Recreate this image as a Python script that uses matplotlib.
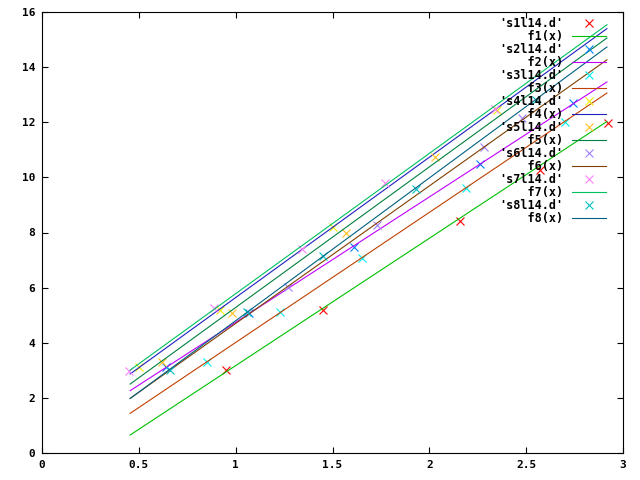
import numpy as np
import matplotlib
matplotlib.use("Agg")
import matplotlib.pyplot as plt

# scatter data
s1_x = [0.95, 1.45, 2.16, 2.57, 2.92]
s1_y = [3.00, 5.19, 8.42, 10.27, 11.96]
s2_x = [0.64, 1.07, 1.61, 2.26, 2.74]
s2_y = [3.13, 5.09, 7.46, 10.49, 12.69]
s3_x = [0.85, 1.23, 1.65, 2.19, 2.70]
s3_y = [3.31, 5.11, 7.06, 9.60, 12.02]
s4_x = [0.50, 0.92, 1.50, 2.35]
s4_y = [3.13, 5.19, 8.21, 12.44]
s5_x = [0.62, 0.98, 1.57, 2.03]
s5_y = [3.31, 5.07, 7.99, 10.75]
s6_x = [1.27, 1.73, 2.28, 2.48]
s6_y = [6.03, 8.27, 11.11, 12.15]
s7_x = [0.45, 0.89, 1.34, 1.77, 2.34]
s7_y = [2.99, 5.25, 7.39, 9.81, 12.47]
s8_x = [0.66, 1.06, 1.45, 1.93, 2.55]
s8_y = [3.01, 5.12, 7.15, 9.57, 12.80]

# linear fits f(x) = a*x + b
slopes = [4.62, 4.55, 4.72, 5.09, 5.10, 4.99, 5.09, 5.18]
intercepts = [-1.45, 0.19, -0.71, 0.55, 0.18, -0.29, 0.69, -0.38]
fit_range = [0.455, 2.917]

pt_colors = ["#ff0000", "#0080ff", "#00eeee", "#eeee00",
             "#ffc020", "#a080ff", "#ff80ff", "#00c0c0"]
ln_colors = ["#00c000", "#c000ff", "#c04000", "#2020c0",
             "#008040", "#804000", "#00c060", "#006080"]

xs = [s1_x, s2_x, s3_x, s4_x, s5_x, s6_x, s7_x, s8_x]
ys = [s1_y, s2_y, s3_y, s4_y, s5_y, s6_y, s7_y, s8_y]

mono = "DejaVu Sans Mono"

fig = plt.figure(figsize=(6.4, 4.8), dpi=100)
ax = fig.add_axes([42/640, 27/480, 581/640, 441/480])

xf = np.linspace(fit_range[0], fit_range[1], 100)
for i in range(8):
    ax.plot(xs[i], ys[i], linestyle="none", marker="x", ms=6, mew=0.8,
            color=pt_colors[i], label="'s%dl14.d'" % (i + 1))
    ax.plot(xf, slopes[i] * xf + intercepts[i], color=ln_colors[i], lw=0.8,
            label="    f%d(x)" % (i + 1))

ax.set_xlim(0, 3)
ax.set_ylim(0, 16)
ax.set_xticks([0, 0.5, 1, 1.5, 2, 2.5, 3])
ax.set_xticklabels(["0", "0.5", "1", "1.5", "2", "2.5", "3"])
ax.set_yticks(range(0, 17, 2))
ax.tick_params(direction="in", top=True, right=True, length=4, width=0.8,
               labelsize=8, pad=5)
for lab in ax.get_xticklabels() + ax.get_yticklabels():
    lab.set_family(mono)
    lab.set_weight("bold")
for sp in ax.spines.values():
    sp.set_linewidth(0.8)

leg = ax.legend(loc="upper right", bbox_to_anchor=(0.975, 0.993),
                frameon=False, markerfirst=False, handlelength=2.9,
                handletextpad=0.7, labelspacing=0.0, borderaxespad=0,
                borderpad=0.2,
                prop={"family": mono, "weight": "bold", "size": 8.5})

fig.savefig("out.png", dpi=100)
